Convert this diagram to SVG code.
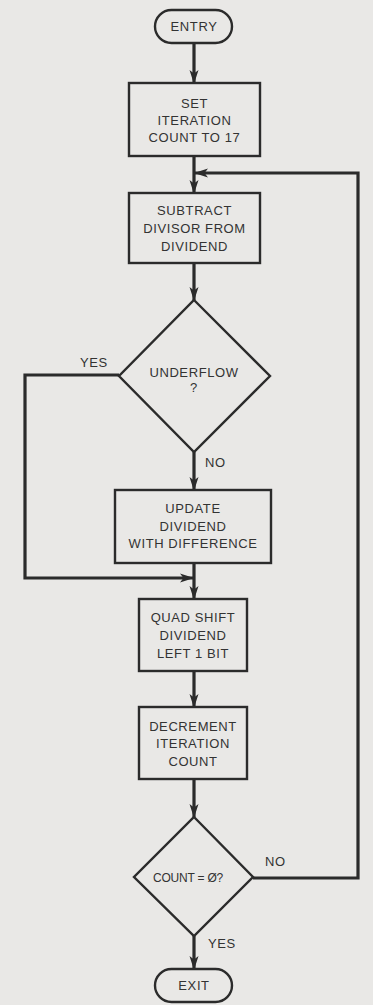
<svg xmlns="http://www.w3.org/2000/svg" width="373" height="1005" viewBox="0 0 373 1005">
<defs>
<marker id="ah" markerUnits="userSpaceOnUse" markerWidth="14" markerHeight="10" viewBox="0 0 14 10" refX="13" refY="5" orient="auto">
<path d="M0,0.5 L14,5 L0,9.5 L3.5,5 Z" fill="#2b2b2b"/>
</marker>
<style>
.bg{fill:#e9e8e6}
.box{fill:none;stroke:#2b2b2b;stroke-width:2.4}
.conn{fill:none;stroke:#2b2b2b;stroke-width:3.2}
text{font-family:"Liberation Sans",Arial,sans-serif;font-size:13px;fill:#333;letter-spacing:0.6px}
.c{text-anchor:middle}
.tight{font-size:12px;letter-spacing:-0.2px}
</style>
</defs>
<rect class="bg" x="0" y="0" width="373" height="1005"/>
<g id="connectors">
<line class="conn" x1="194" y1="43" x2="194" y2="83" marker-end="url(#ah)"/>
<line class="conn" x1="194" y1="156" x2="194" y2="193" marker-end="url(#ah)"/>
<line class="conn" x1="194" y1="263" x2="194" y2="300" marker-end="url(#ah)"/>
<line class="conn" x1="194" y1="452" x2="194" y2="490" marker-end="url(#ah)"/>
<line class="conn" x1="194" y1="563" x2="194" y2="599" marker-end="url(#ah)"/>
<polyline class="conn" points="119,375 25,375 25,578 193,578" marker-end="url(#ah)"/>
<line class="conn" x1="194" y1="671" x2="194" y2="707" marker-end="url(#ah)"/>
<line class="conn" x1="194" y1="779" x2="194" y2="817" marker-end="url(#ah)"/>
<line class="conn" x1="194" y1="936" x2="194" y2="969" marker-end="url(#ah)"/>
<polyline class="conn" points="253,878 358,878 358,173 195,173" marker-end="url(#ah)"/>
<text x="80" y="367">YES</text>
<text x="205" y="467">NO</text>
<text x="265" y="866">NO</text>
<text x="208" y="948">YES</text>
</g>
<g id="entry">
<rect class="box" x="155" y="10" width="77" height="33" rx="16.5"/>
<text class="c" x="194" y="31">ENTRY</text>
</g>
<g id="set-count">
<rect class="box" x="129" y="83" width="131" height="73"/>
<text class="c" x="194.5" y="108">SET</text>
<text class="c" x="194.5" y="125">ITERATION</text>
<text class="c" x="194.5" y="142">COUNT TO 17</text>
</g>
<g id="subtract">
<rect class="box" x="129" y="193" width="131" height="70"/>
<text class="c" x="194.5" y="215">SUBTRACT</text>
<text class="c" x="194.5" y="233">DIVISOR FROM</text>
<text class="c" x="194.5" y="251">DIVIDEND</text>
</g>
<g id="underflow">
<polygon class="box" points="194,300 270,376 194,452 119,376"/>
<text class="c" x="194" y="377">UNDERFLOW</text>
<text class="c" x="194" y="392">?</text>
</g>
<g id="update">
<rect class="box" x="115" y="490" width="156" height="73"/>
<text class="c" x="193" y="513">UPDATE</text>
<text class="c" x="193" y="531">DIVIDEND</text>
<text class="c" x="193" y="548">WITH DIFFERENCE</text>
</g>
<g id="quad-shift">
<rect class="box" x="139" y="599" width="108" height="72"/>
<text class="c" x="193" y="622">QUAD SHIFT</text>
<text class="c" x="193" y="640">DIVIDEND</text>
<text class="c" x="193" y="658">LEFT 1 BIT</text>
</g>
<g id="decrement">
<rect class="box" x="139" y="707" width="108" height="72"/>
<text class="c" x="193" y="731">DECREMENT</text>
<text class="c" x="193" y="748">ITERATION</text>
<text class="c" x="193" y="766">COUNT</text>
</g>
<g id="count-zero">
<polygon class="box" points="194,817 253,877 194,936 134,877"/>
<text class="c tight" x="188" y="882">COUNT = Ø?</text>
</g>
<g id="exit">
<rect class="box" x="155" y="969" width="77" height="33" rx="16.5"/>
<text class="c" x="194" y="990">EXIT</text>
</g>
</svg>
